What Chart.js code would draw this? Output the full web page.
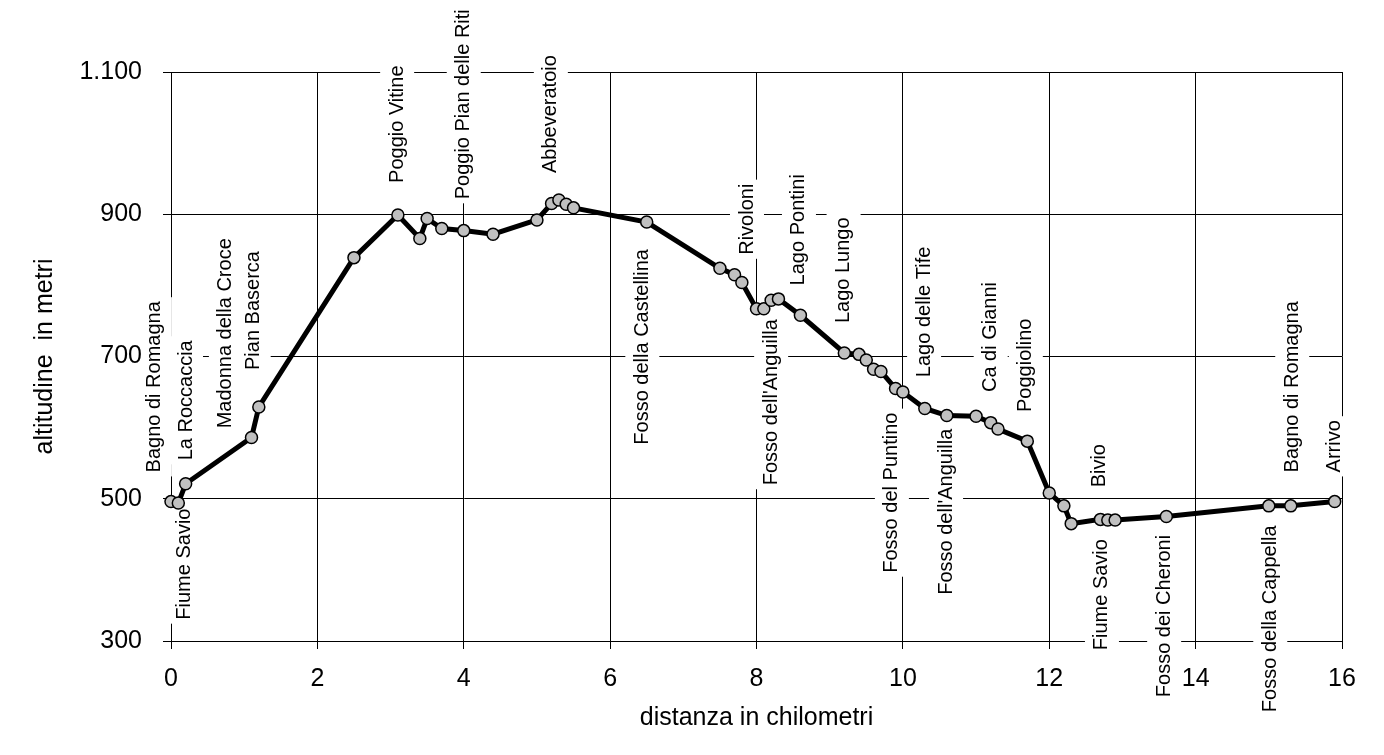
<!DOCTYPE html>
<html lang="it">
<head>
<meta charset="utf-8">
<title>Profilo altimetrico</title>
<script src="https://cdn.jsdelivr.net/npm/chart.js@4.4.1/dist/chart.umd.min.js"></script>
<style>
  html, body { margin: 0; padding: 0; background: #fff; }
  canvas { display: block; }
</style>
</head>
<body>
<canvas id="profiloChart" width="1384" height="755"></canvas>
<script>
// distanza progressiva di ogni punto (km)
const distanzeKm = [
  0, 0.1, 0.2, 1.1, 1.2, 2.5, 3.1, 3.4, 3.5, 3.7, 4.0, 4.4, 5.0, 5.2, 5.3, 5.4, 5.5,
  6.5, 7.5, 7.7, 7.8, 8.0, 8.1, 8.2, 8.3, 8.6, 9.2, 9.4, 9.5, 9.6, 9.7, 9.9, 10.0,
  10.3, 10.6, 11.0, 11.2, 11.3, 11.7, 12.0, 12.2, 12.3, 12.7, 12.8, 12.9, 13.6,
  15.0, 15.3, 15.9
];

// altitudine di ogni punto (m)
const altitudini = [
  496, 494, 521, 586, 629, 839, 899, 866, 894, 880, 877, 872, 892, 915, 920, 914, 909,
  889, 824, 815, 804, 767, 767, 779, 781, 758, 705, 703, 695, 682, 679, 655, 650,
  627, 617, 616, 607, 598, 581, 508, 490, 465, 471, 470, 470, 475,
  490, 490, 496
];

// nomi dei luoghi, con il punto (km, quota) da cui parte la scritta verticale
const nomiLuoghi = [
  'Bagno di Romagna', 'Fiume Savio', 'La Roccaccia', 'Madonna della Croce', 'Pian Baserca',
  'Poggio Vitine', 'Poggio Pian delle Riti', 'Abbeveratoio', 'Fosso della Castellina',
  'Rivoloni', "Fosso dell'Anguilla", 'Lago Pontini', 'Lago Lungo', 'Fosso del Puntino',
  'Lago delle Tife', "Fosso dell'Anguilla", 'Ca di Gianni', 'Poggiolino', 'Bivio',
  'Fiume Savio', 'Fosso dei Cheroni', 'Fosso della Cappella', 'Bagno di Romagna', 'Arrivo'
];
const nomiKm = [
  -0.22, 0.18, 0.205, 0.75, 1.13,
  3.09, 4.0, 5.19, 6.44,
  7.87, 8.2, 8.58, 9.19, 9.85,
  10.29, 10.59, 11.2, 11.68, 12.68,
  12.72, 13.57, 15.02, 15.32, 15.9
];
const nomiQuota = [
  537, 330, 554, 599, 681,
  944, 921, 958, 576,
  843, 519, 800, 747, 396,
  671, 365, 650, 622, 516,
  287, 221, 200, 537, 537
];

const KM_MIN = 0, KM_MAX = 16, KM_PASSO = 2;
const QUOTA_MIN = 300, QUOTA_MAX = 1100, QUOTA_PASSO = 200;

const FONT = "'Liberation Sans', Arial, sans-serif";

/**
 * Formatta le quote con il separatore delle migliaia italiano (1.100)
 */
function formatQuota(v) {
  return String(v).replace(/\B(?=(\d{3})+(?!\d))/g, '.');
}

/**
 * Scritte verticali dei luoghi, con fondo bianco sopra la griglia
 */
const etichetteLuoghi = {
  id: 'etichetteLuoghi',
  beforeDatasetsDraw(chart) {
    const { ctx, scales: { x, y } } = chart;
    ctx.save();
    ctx.font = `20px ${FONT}`;
    ctx.textBaseline = 'middle';
    ctx.textAlign = 'left';
    nomiLuoghi.forEach((nome, i) => {
      const px = x.getPixelForValue(nomiKm[i]);
      const py = y.getPixelForValue(nomiQuota[i]);
      const w = ctx.measureText(nome).width;
      ctx.save();
      ctx.translate(px, py);
      ctx.rotate(-Math.PI / 2);
      ctx.fillStyle = '#fff';
      ctx.fillRect(-4, -17, w + 8, 34);
      ctx.fillStyle = '#000';
      ctx.fillText(nome, 0, 0);
      ctx.restore();
    });
    ctx.restore();
  }
};

function setupChart() {
  const ctx = document.getElementById('profiloChart');

  new Chart(ctx, {
    type: 'line',
    data: {
      datasets: [{
        data: distanzeKm.map((km, i) => ({ x: km, y: altitudini[i] })),
        borderColor: '#000',
        borderWidth: 5,
        pointRadius: 6,
        pointBackgroundColor: '#c0c0c0',
        pointBorderColor: '#000',
        pointBorderWidth: 1.5,
        tension: 0,
        fill: false,
        clip: false
      }]
    },
    options: {
      responsive: false,
      animation: false,
      devicePixelRatio: 1,
      layout: { padding: { top: 72, right: 42, left: 0, bottom: 0 } },
      plugins: {
        legend: { display: false },
        tooltip: { enabled: false }
      },
      scales: {
        x: {
          type: 'linear',
          min: KM_MIN,
          max: KM_MAX,
          ticks: { stepSize: KM_PASSO, padding: 15, color: '#000', font: { size: 25, family: FONT }, z: 1 },
          grid: { color: '#000', lineWidth: 1, tickLength: 8 },
          border: { color: '#000', width: 1 },
          title: {
            display: true,
            text: 'distanza in chilometri',
            color: '#000',
            font: { size: 25, family: FONT },
            padding: { top: 0, bottom: 22 }
          },
          afterFit(scale) { scale.height = 114; }
        },
        y: {
          min: QUOTA_MIN,
          max: QUOTA_MAX,
          ticks: {
            stepSize: QUOTA_PASSO,
            padding: 21,
            color: '#000',
            font: { size: 25, family: FONT },
            callback: v => formatQuota(v),
            z: 1
          },
          grid: { color: '#000', lineWidth: 1, tickLength: 8 },
          border: { color: '#000', width: 1 },
          title: {
            display: true,
            text: 'altitudine  in metri',
            color: '#000',
            font: { size: 25, family: FONT },
            padding: { top: 30, bottom: 0 }
          },
          afterFit(scale) { scale.width = 171; }
        }
      }
    },
    plugins: [etichetteLuoghi]
  });
}

window.onload = setupChart;
</script>
</body>
</html>
